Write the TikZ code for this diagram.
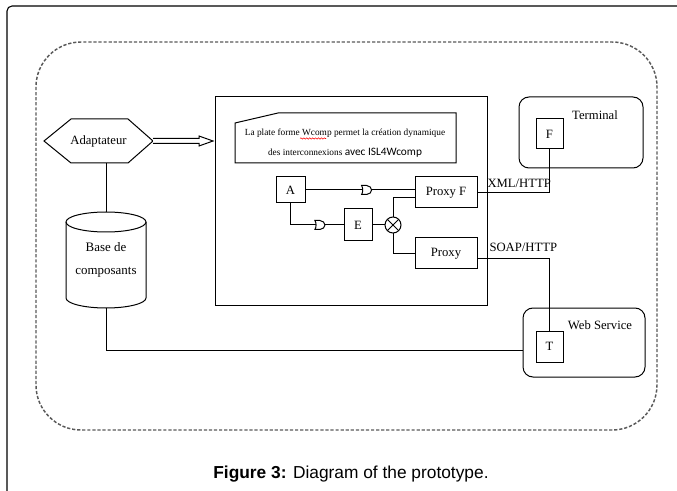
\documentclass[tikz,border=0pt]{standalone}
\usepackage{fontspec}
\setmainfont{Liberation Serif}
\newfontfamily\capfont{Liberation Sans}
\newfontfamily\calfont{Carlito}
\usetikzlibrary{calc,decorations.pathmorphing}
\newcommand\pxl{0.75pt}

\tikzset{
  orgate/.pic={
    \filldraw[fill=white] (-5,-4.5) .. controls (-3.5,-2) and (-3.5,2) .. (-5,4.5)
      -- (0,4.5) .. controls (3,4.5) and (5,2) .. (5,0)
      .. controls (5,-2) and (3,-4.5) .. (0,-4.5) -- cycle;
  }
}

\begin{document}
\begin{tikzpicture}[x=0.75pt,y=-0.75pt,line width=0.75pt,
  lbl/.style={font=\fontsize{9.5}{11}\selectfont,inner sep=0pt},
  blk/.style={draw,lbl,outer sep=0pt},
  ghost/.style={lbl,outer sep=0pt},
  wire/.style={draw=black,line width=0.75pt},
  border/.style={draw=black!65,line width=1.1pt,dash pattern=on 2.4pt off 1.4pt,rounded corners=45*\pxl}]

\useasboundingbox (0,0) rectangle (677,491);

% page frame
\begin{scope}
  \clip (0,0) rectangle (677,491);
  \draw[line width=0.8pt,rounded corners=5*\pxl] (7,530) -- (7,6) -- (720,6);
\end{scope}

% dashed system boundary
\draw[border] (36,42) rectangle (657,430);

% platform and its note
\node[blk,minimum width=272*\pxl,minimum height=208*\pxl] (platform) at (351,201) {};
\draw (235,123) -- (278,113) -- (456,113) -- (456,163) -- (235,163) -- cycle;
\node[ghost,align=center,font=\fontsize{7}{15}\selectfont] (note) at (345,143)
  {La plate forme Wcomp permet la création dynamique\\
   des interconnexions {\calfont\fontsize{8.5}{15}\selectfont avec ISL4Wcomp}};
% spell-check wave under "Wcomp"
\draw[red,line width=0.4pt,decorate,decoration={snake,segment length=2.2pt,amplitude=0.5pt}]
  (300,138.5) -- (326,138.5);

% adapter (hexagon)
\node[ghost,minimum width=109*\pxl,minimum height=44*\pxl] (adapt) at (98.5,141) {Adaptateur};
\draw (adapt.west) -- ($(adapt.north west)+(27,0)$) -- ($(adapt.north east)+(-25,0)$)
  -- (adapt.east) -- ($(adapt.south east)+(-25,0)$) -- ($(adapt.south west)+(27,0)$) -- cycle;

% component base (cylinder)
\node[ghost,minimum width=80*\pxl,minimum height=96*\pxl,align=center,
  font=\fontsize{9.7}{17}\selectfont] (base) at (106,260) {Base de\\composants};
\draw ($(base.north)+(0,10)$) ellipse [x radius=40,y radius=10];
\draw ($(base.north west)+(0,10)$) -- ($(base.south west)+(0,-10)$)
  .. controls +(0,5.5) and +(-22,0) .. (base.south)
  .. controls +(22,0) and +(0,5.5) .. ($(base.south east)+(0,-10)$)
  -- ($(base.north east)+(0,10)$);

% hollow double arrow from the adapter to the platform
\coordinate (tip) at ($(adapt.east -| platform.west)+(-2,0)$);
\filldraw[fill=white] ($(adapt.east)+(0,-2.5)$) -- ($(tip)+(-14,-2.5)$) -- ($(tip)+(-14,-5)$)
  -- (tip) -- ($(tip)+(-14,5)$) -- ($(tip)+(-14,2.5)$) -- ($(adapt.east)+(0,2.5)$);

% components inside the platform
\node[blk,minimum width=29*\pxl,minimum height=26*\pxl] (A) at (290.5,190) {A};
\node[blk,minimum width=62*\pxl,minimum height=31*\pxl] (proxyF) at (446,192.5) {Proxy F};
\node[blk,minimum width=28*\pxl,minimum height=32*\pxl] (E) at (358,225) {E};
\node[blk,minimum width=62*\pxl,minimum height=31*\pxl] (proxy) at (446,253.5) {Proxy};
\node[draw,circle,minimum size=16*\pxl,inner sep=0pt,outer sep=0pt] (X) at (393,225) {};
\draw (X.north east) -- (X.south west) (X.north west) -- (X.south east);

% terminal and web service
\node[draw,rounded corners=10*\pxl,minimum width=124*\pxl,minimum height=71*\pxl,outer sep=0pt] (terminal) at (581,132.5) {};
\node[lbl] at (595,115) {Terminal};
\node[blk,minimum width=27*\pxl,minimum height=30*\pxl] (F) at (549.5,134) {F};
\node[draw,rounded corners=10*\pxl,minimum width=122*\pxl,minimum height=69*\pxl,outer sep=0pt] (web) at (584,342.5) {};
\node[lbl] at (600,325) {Web Service};
\node[blk,minimum width=27*\pxl,minimum height=31*\pxl] (T) at (549.5,346.5) {T};

% connectors
\draw[wire] (base.north) -- (base.north |- adapt.south);
\draw[wire] (base.south) |- ($(web.south west)+(0,-27)$);
\draw[wire] (A.east) -- (A.east -| proxyF.west);
\pic at ($(A.east)!0.56!(A.east -| proxyF.west)$) {orgate};
\draw[wire] (A.south) |- (E.west);
\pic at ($(A.south |- E.west)!0.55!(E.west)$) {orgate};
\draw[wire] (E.east) -- (X.west);
\draw[wire] (X.north) |- ($(proxyF.south west)+(0,-10)$);
\draw[wire] (X.south) |- (proxy.west);
\draw[wire] (proxyF.east) -| (F.south);
\draw[wire] ($(proxy.south east)+(0,-10)$) -| (T.north);

% protocol labels
\node[lbl,anchor=base west] at ($(proxyF.east)+(10,-5)$) {XML/HTTP};
\node[lbl,anchor=base west] at ($(proxy.south east)+(12,-17)$) {SOAP/HTTP};

% caption
\node[inner sep=0pt,font=\capfont\fontsize{13}{15}\selectfont] (cap) at (351,474)
  {\textbf{Figure 3:} Diagram of the prototype.};
\end{tikzpicture}
\end{document}
